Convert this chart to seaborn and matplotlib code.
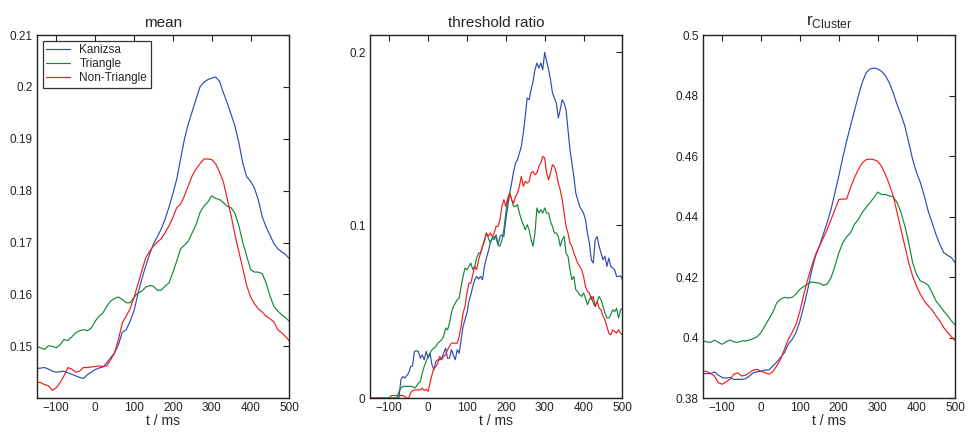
import numpy as np
import pandas as pd
import seaborn as sns
import matplotlib
matplotlib.use("Agg")
import matplotlib.pyplot as plt
from matplotlib.ticker import FuncFormatter

conditions = ["Kanizsa", "Triangle", "Non-Triangle"]
colors = ["#2e4cb4", "#13883a", "#f01c1c"]

# time grids (ms)
t_smooth = np.arange(-150, 501, 10)
t_thr = np.arange(-150, 501, 5)

# mean
mean_kanizsa = [0.1457, 0.1458, 0.1459, 0.1456, 0.1452, 0.1450, 0.1451, 0.1452, 0.1449, 0.1446,
                0.1443, 0.1440, 0.1438, 0.1445, 0.1450, 0.1455, 0.1458, 0.1460, 0.1468, 0.1478,
                0.1487, 0.1503, 0.1527, 0.1532, 0.1548, 0.1568, 0.1600, 0.1629, 0.1654, 0.1677,
                0.1697, 0.1711, 0.1726, 0.1745, 0.1768, 0.1794, 0.1822, 0.1861, 0.1900, 0.1929,
                0.1953, 0.1977, 0.2000, 0.2009, 0.2014, 0.2017, 0.2019, 0.2011, 0.1989, 0.1969,
                0.1947, 0.1924, 0.1892, 0.1853, 0.1827, 0.1818, 0.1805, 0.1782, 0.1750, 0.1730,
                0.1714, 0.1698, 0.1688, 0.1682, 0.1677, 0.1669]
mean_triangle = [0.1500, 0.1497, 0.1494, 0.1501, 0.1500, 0.1497, 0.1503, 0.1513, 0.1511, 0.1518,
                 0.1526, 0.1530, 0.1532, 0.1530, 0.1535, 0.1548, 0.1558, 0.1564, 0.1577, 0.1587,
                 0.1592, 0.1595, 0.1590, 0.1584, 0.1584, 0.1594, 0.1603, 0.1606, 0.1614, 0.1617,
                 0.1616, 0.1608, 0.1608, 0.1616, 0.1622, 0.1642, 0.1664, 0.1688, 0.1695, 0.1703,
                 0.1719, 0.1735, 0.1758, 0.1770, 0.1778, 0.1790, 0.1785, 0.1783, 0.1777, 0.1770,
                 0.1767, 0.1756, 0.1732, 0.1700, 0.1674, 0.1648, 0.1643, 0.1643, 0.1640, 0.1622,
                 0.1597, 0.1577, 0.1568, 0.1561, 0.1555, 0.1548]
mean_nontriangle = [0.1431, 0.1430, 0.1426, 0.1424, 0.1415, 0.1420, 0.1430, 0.1443, 0.1459, 0.1456,
                    0.1450, 0.1452, 0.1459, 0.1459, 0.1460, 0.1461, 0.1462, 0.1461, 0.1462, 0.1474,
                    0.1487, 0.1513, 0.1545, 0.1558, 0.1572, 0.1594, 0.1619, 0.1645, 0.1670, 0.1683,
                    0.1693, 0.1701, 0.1707, 0.1719, 0.1732, 0.1748, 0.1767, 0.1774, 0.1790, 0.1810,
                    0.1829, 0.1842, 0.1852, 0.1861, 0.1861, 0.1860, 0.1852, 0.1836, 0.1817, 0.1784,
                    0.1752, 0.1714, 0.1682, 0.1650, 0.1617, 0.1595, 0.1582, 0.1572, 0.1566, 0.1558,
                    0.1553, 0.1547, 0.1532, 0.1526, 0.1519, 0.1510]

# threshold ratio
thr_kanizsa = [0, 0, 0, 0, 0, 0, 0, 0, 0, 0, 0, 0, 0, 0, 0, 0,
               0.0106, 0.0125, 0.0116, 0.0130, 0.0145, 0.0183, 0.0187, 0.0270, 0.0274, 0.0270,
               0.0231, 0.0250, 0.0222, 0.0270, 0.0231, 0.0260, 0.0193, 0.0164, 0.0212, 0.0222,
               0.0222, 0.0231, 0.0260, 0.0289, 0.0231, 0.0231, 0.0280, 0.0250, 0.0222, 0.0280,
               0.0260, 0.0338, 0.0415, 0.0453, 0.0492, 0.0559, 0.0598, 0.0646, 0.0685, 0.0704,
               0.0689, 0.0704, 0.0685, 0.0762, 0.0810, 0.0849, 0.0897, 0.0926, 0.0935, 0.0926,
               0.0887, 0.0935, 0.0945, 0.0935, 0.1033, 0.1109, 0.1186, 0.1244, 0.1311, 0.1360,
               0.1379, 0.1418, 0.1456, 0.1533, 0.1630, 0.1736, 0.1726, 0.1784, 0.1832, 0.1900,
               0.1938, 0.1909, 0.1938, 0.1900, 0.2000, 0.1948, 0.1900, 0.1842, 0.1765, 0.1736,
               0.1707, 0.1620, 0.1668, 0.1726, 0.1707, 0.1668, 0.1553, 0.1437, 0.1360, 0.1283,
               0.1186, 0.1148, 0.1109, 0.1090, 0.1070, 0.1032, 0.0955, 0.0897, 0.0800, 0.0781,
               0.0916, 0.0935, 0.0878, 0.0839, 0.0800, 0.0820, 0.0762, 0.0810, 0.0762, 0.0752,
               0.0743, 0.0704, 0.0704, 0.0708, 0.0685]
thr_triangle = [0, 0, 0, 0, 0, 0, 0, 0, 0, 0, 0, 0, 0, 0, 0,
                0.0039, 0.0058, 0.0068, 0.0068, 0.0068, 0.0068, 0.0068, 0.0068, 0.0058, 0.0068,
                0.0087, 0.0096, 0.0145, 0.0183, 0.0212, 0.0241, 0.0260, 0.0280, 0.0289, 0.0299,
                0.0318, 0.0328, 0.0338, 0.0357, 0.0405, 0.0395, 0.0434, 0.0492, 0.0530, 0.0550,
                0.0569, 0.0579, 0.0646, 0.0704, 0.0752, 0.0743, 0.0762, 0.0781, 0.0743, 0.0762,
                0.0810, 0.0839, 0.0839, 0.0878, 0.0916, 0.0955, 0.0926, 0.0897, 0.0926, 0.0916,
                0.0945, 0.0887, 0.0878, 0.0916, 0.0974, 0.1070, 0.1148, 0.1186, 0.1148, 0.1109,
                0.1109, 0.1119, 0.1070, 0.1032, 0.1003, 0.0974, 0.1003, 0.0974, 0.0916, 0.0878,
                0.0955, 0.1100, 0.1070, 0.1090, 0.1070, 0.1100, 0.1070, 0.1070, 0.1022, 0.0993,
                0.0955, 0.0955, 0.0935, 0.0878, 0.0916, 0.0935, 0.0839, 0.0820, 0.0743, 0.0685,
                0.0704, 0.0627, 0.0617, 0.0598, 0.0588, 0.0608, 0.0579, 0.0540, 0.0569, 0.0588,
                0.0550, 0.0530, 0.0559, 0.0588, 0.0569, 0.0530, 0.0492, 0.0463, 0.0463, 0.0482,
                0.0511, 0.0500, 0.0520, 0.0463, 0.0511, 0.0520]
thr_nontriangle = [0, 0, 0, 0, 0, 0, 0, 0, 0, 0, 0,
                   0.0015, 0.0015, 0.0015, 0.0015, 0.0015, 0.0015, 0.0015, 0.0010, 0, 0,
                   0.0029, 0.0044, 0.0046, 0.0048, 0.0048, 0.0048, 0.0058, 0.0044, 0.0052, 0.0039,
                   0.0087, 0.0135, 0.0174, 0.0183, 0.0203, 0.0241, 0.0222, 0.0241, 0.0250, 0.0280,
                   0.0299, 0.0318, 0.0318, 0.0318, 0.0318, 0.0357, 0.0415, 0.0492, 0.0530, 0.0608,
                   0.0665, 0.0665, 0.0714, 0.0762, 0.0743, 0.0800, 0.0839, 0.0878, 0.0906, 0.0955,
                   0.0935, 0.0955, 0.0935, 0.0955, 0.0993, 0.0993, 0.1032, 0.1109, 0.1148, 0.1109,
                   0.1157, 0.1186, 0.1148, 0.1128, 0.1167, 0.1186, 0.1225, 0.1283, 0.1225, 0.1254,
                   0.1244, 0.1254, 0.1302, 0.1311, 0.1292, 0.1302, 0.1340, 0.1360, 0.1398, 0.1389,
                   0.1302, 0.1263, 0.1302, 0.1350, 0.1340, 0.1302, 0.1244, 0.1205, 0.1148, 0.1070,
                   0.0993, 0.0955, 0.0897, 0.0878, 0.0839, 0.0810, 0.0781, 0.0762, 0.0743, 0.0704,
                   0.0646, 0.0617, 0.0608, 0.0569, 0.0588, 0.0530, 0.0559, 0.0520, 0.0511, 0.0473,
                   0.0453, 0.0415, 0.0376, 0.0366, 0.0395, 0.0386, 0.0376, 0.0395, 0.0376, 0.0366]

# r_Cluster
rc_kanizsa = [0.3881, 0.3881, 0.3881, 0.3887, 0.3876, 0.3868, 0.3866, 0.3868, 0.3862, 0.3862,
              0.3862, 0.3864, 0.3873, 0.3884, 0.3887, 0.3889, 0.3893, 0.3893, 0.3906, 0.3919,
              0.3934, 0.3950, 0.3978, 0.3994, 0.4017, 0.4055, 0.4104, 0.4159, 0.4220, 0.4269,
              0.4302, 0.4341, 0.4380, 0.4424, 0.4479, 0.4534, 0.4594, 0.4649, 0.4699, 0.4748,
              0.4798, 0.4842, 0.4875, 0.4888, 0.4891, 0.4888, 0.4880, 0.4866, 0.4842, 0.4809,
              0.4770, 0.4737, 0.4699, 0.4644, 0.4589, 0.4545, 0.4512, 0.4468, 0.4418, 0.4380,
              0.4341, 0.4308, 0.4281, 0.4272, 0.4264, 0.4247]
rc_triangle = [0.3989, 0.3986, 0.3984, 0.3992, 0.3984, 0.3978, 0.3986, 0.3992, 0.3986, 0.3984,
               0.3989, 0.3989, 0.3992, 0.3997, 0.4003, 0.4017, 0.4039, 0.4061, 0.4083, 0.4114,
               0.4127, 0.4133, 0.4131, 0.4133, 0.4144, 0.4160, 0.4169, 0.4177, 0.4184, 0.4182,
               0.4180, 0.4173, 0.4177, 0.4198, 0.4236, 0.4280, 0.4313, 0.4333, 0.4346, 0.4374,
               0.4390, 0.4413, 0.4430, 0.4446, 0.4462, 0.4481, 0.4473, 0.4473, 0.4468, 0.4466,
               0.4446, 0.4413, 0.4369, 0.4313, 0.4247, 0.4209, 0.4187, 0.4182, 0.4173, 0.4149,
               0.4121, 0.4105, 0.4088, 0.4072, 0.4055, 0.4041]
rc_nontriangle = [0.3890, 0.3888, 0.3882, 0.3873, 0.3851, 0.3846, 0.3854, 0.3862, 0.3879, 0.3884,
                  0.3873, 0.3876, 0.3884, 0.3893, 0.3895, 0.3889, 0.3884, 0.3879, 0.3887, 0.3906,
                  0.3928, 0.3961, 0.3994, 0.4017, 0.4044, 0.4088, 0.4143, 0.4192, 0.4236, 0.4274,
                  0.4302, 0.4329, 0.4357, 0.4390, 0.4423, 0.4456, 0.4458, 0.4458, 0.4495, 0.4528,
                  0.4555, 0.4577, 0.4588, 0.4590, 0.4588, 0.4583, 0.4566, 0.4539, 0.4506, 0.4468,
                  0.4413, 0.4357, 0.4302, 0.4247, 0.4203, 0.4170, 0.4143, 0.4121, 0.4105, 0.4091,
                  0.4072, 0.4055, 0.4033, 0.4017, 0.4003, 0.3989]


def long_df(t, series):
    parts = []
    for name, vals in zip(conditions, series):
        parts.append(pd.DataFrame({"t": t, "value": vals, "cond": name}))
    return pd.concat(parts, ignore_index=True)


df_mean = long_df(t_smooth, [mean_kanizsa, mean_triangle, mean_nontriangle])
df_thr = long_df(t_thr, [thr_kanizsa, thr_triangle, thr_nontriangle])
df_rc = long_df(t_smooth, [rc_kanizsa, rc_triangle, rc_nontriangle])

sns.set_style("white")
plt.rcParams["font.family"] = ["Liberation Sans", "DejaVu Sans"]
plt.rcParams["mathtext.fontset"] = "custom"
plt.rcParams["mathtext.rm"] = "Liberation Sans"

fig = plt.figure(figsize=(9.68, 4.38), dpi=100)
lefts = [0.038, 0.382, 0.726]
axes = [fig.add_axes([l, 0.091, 0.261, 0.829]) for l in lefts]

panels = [
    (df_mean, "mean", (0.14, 0.21), [0.15, 0.16, 0.17, 0.18, 0.19, 0.2, 0.21]),
    (df_thr, "threshold ratio", (0, 0.21), [0, 0.1, 0.2]),
    (df_rc, r"r$_{\rm Cluster}$", (0.38, 0.5), [0.38, 0.4, 0.42, 0.44, 0.46, 0.48, 0.5]),
]

pal = dict(zip(conditions, colors))
for i, (ax, (df, title, ylim, yticks)) in enumerate(zip(axes, panels)):
    sns.lineplot(data=df, x="t", y="value", hue="cond", palette=pal, estimator=None,
                 linewidth=0.85, ax=ax, legend=(i == 0))
    ax.set_xlim(-150, 500)
    ax.set_ylim(*ylim)
    ax.set_xticks([-100, 0, 100, 200, 300, 400, 500])
    ax.set_yticks(yticks)
    ax.yaxis.set_major_formatter(FuncFormatter(lambda v, p: "%g" % round(v, 3)))
    ax.tick_params(direction="in", length=4, width=0.8, top=True, right=True,
                   labelsize=8.5, colors="#222222", pad=3)
    for s in ax.spines.values():
        s.set_color("#222222")
        s.set_linewidth(1.0)
    ax.set_xlabel("t / ms", fontsize=10, labelpad=0)
    ax.set_ylabel("")
    if i < 2:
        ax.set_title(title, fontsize=11, pad=6)
    else:
        ax.set_title(title, fontsize=12.5, pad=7)

leg = axes[0].legend(loc="upper left", fontsize=8.5, frameon=True, fancybox=False,
                     handlelength=2.0, borderaxespad=0.5, labelspacing=0.15,
                     borderpad=0.3, handletextpad=0.8)
leg.get_frame().set_edgecolor("black")
leg.get_frame().set_linewidth(0.9)
for line in leg.get_lines():
    line.set_linewidth(0.85)

fig.savefig("out.png", dpi=100)
